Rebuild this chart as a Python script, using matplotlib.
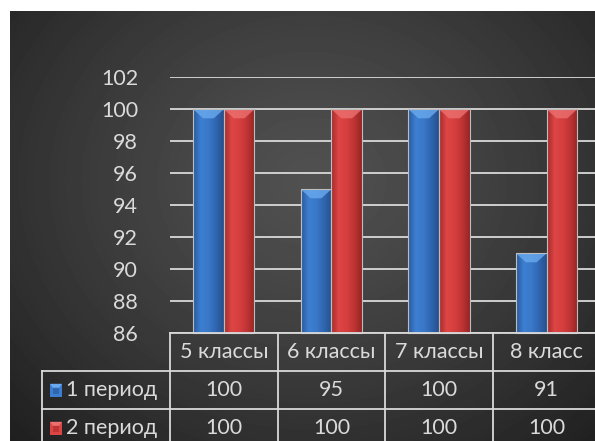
import numpy as np
import matplotlib
matplotlib.use("Agg")
import matplotlib.pyplot as plt
from matplotlib.patches import Rectangle, Polygon
from matplotlib.colors import LinearSegmentedColormap

# ---- data -------------------------------------------------------------
categories = ["5 классы", "6 классы", "7 классы", "8 класс"]
series_names = ["1 период", "2 период"]
period1 = [100, 95, 100, 91]
period2 = [100, 100, 100, 100]
y_ticks = [86, 88, 90, 92, 94, 96, 98, 100, 102]

# ---- style ------------------------------------------------------------
W, H = 595, 441
FONT = ["Lato", "Noto Sans", "DejaVu Sans"]
TEXT = "#dadada"
LINE = "#d9d9d9"
FS = 15.5
plt.rcParams["font.family"] = FONT

blue_cmap = LinearSegmentedColormap.from_list(
    "blue_bar", ["#2b5a9a", "#3d7fd2", "#3a78c8", "#2f66b0", "#27508c"])
red_cmap = LinearSegmentedColormap.from_list(
    "red_bar", ["#a62c2c", "#de4646", "#d63f3f", "#c03434", "#962525"])
blue_top, red_top = "#6aaaee", "#ec7070"
series_style = [(blue_cmap, blue_top, "#3a78c8"), (red_cmap, red_top, "#d23d3d")]

fig = plt.figure(figsize=(W / 100, H / 100), dpi=100, facecolor="white")

# ---- dark radial background panel ------------------------------------
bw, bh = W - 10, H - 11
bg = fig.add_axes([10 / W, 0, bw / W, bh / H], zorder=0)
bg.set_axis_off()
yy, xx = np.mgrid[0:bh, 0:bw]
r = np.hypot((xx - 300) / 1.0, (yy - 170) / 0.85)
t = np.clip(r / 440, 0, 1)
shade = 0.315 - (0.315 - 0.115) * t ** 1.25
bg.imshow(shade, cmap="gray", vmin=0, vmax=1, extent=(0, 1, 0, 1),
          aspect="auto", origin="upper", interpolation="bilinear")
bg.set_xlim(0, 1)
bg.set_ylim(0, 1)

# ---- bar chart axes ---------------------------------------------------
ax_left, ax_bottom_px, ax_w, ax_h = 170, 333.3, 430.4, 256
ax = fig.add_axes([ax_left / W, (H - ax_bottom_px) / H, ax_w / W, ax_h / H], zorder=2)
ax.patch.set_alpha(0)
n = len(categories)
ax.set_xlim(-0.5, n - 0.5)
ax.set_ylim(y_ticks[0], y_ticks[-1])
for s in ax.spines.values():
    s.set_visible(False)
ax.set_yticks(y_ticks)
ax.set_yticklabels([str(v) for v in y_ticks], color=TEXT, fontsize=FS)
ax.tick_params(axis="y", length=0, pad=23)
ax.set_xticks([])
ax.yaxis.grid(True, color=LINE, lw=1.3)
ax.set_axisbelow(True)

width = 0.285
x = np.arange(n)
dx = n / ax_w                                   # data units per pixel (x)
dy = (y_ticks[-1] - y_ticks[0]) / ax_h          # data units per pixel (y)
bev_x, bev_y = 10, 9

profile = np.linspace(0, 1, 64)[None, :]
for k, (vals, offset) in enumerate(zip([period1, period2], [-width / 2, width / 2])):
    cmap, top_c, base_c = series_style[k]
    bars = ax.bar(x + offset, vals, width, color=base_c, zorder=3, linewidth=0)
    for rect, v in zip(bars, vals):
        x0 = rect.get_x()
        x1 = x0 + rect.get_width()
        img = ax.imshow(profile, cmap=cmap, extent=(x0, x1, y_ticks[0], v),
                        aspect="auto", zorder=3.1, interpolation="bilinear")
        img.set_clip_path(rect)
        ax.add_patch(Polygon([(x0, v), (x1, v), (x1 - bev_x * dx, v - bev_y * dy),
                              (x0 + bev_x * dx, v - bev_y * dy)],
                             closed=True, facecolor=top_c, edgecolor="none",
                             alpha=0.8, zorder=3.2))
        ax.add_patch(Rectangle((x0, y_ticks[0]), x1 - x0, v - y_ticks[0], fill=False,
                               edgecolor="#bdbdbd", lw=0.8, zorder=3.3, clip_on=False))
ax.set_xlim(-0.5, n - 0.5)
ax.set_ylim(y_ticks[0], y_ticks[-1])

# ---- data table under the axes ---------------------------------------
ov = fig.add_axes([0, 0, 1, 1], zorder=4)
ov.set_axis_off()
ov.set_xlim(0, W)
ov.set_ylim(H, 0)

bounds = [ax.transData.transform((i - 0.5, y_ticks[0]))[0] for i in range(n + 1)]
y0 = H - ax.transData.transform((0, y_ticks[0]))[1]
row_h = 38
label_left = 42
lw = 1.3
rows_y = [y0 + row_h * i for i in range(4)]

ov.plot([bounds[0], bounds[-1]], [y0, y0], color=LINE, lw=lw, clip_on=False)
for ry in rows_y[1:3]:
    ov.plot([label_left, bounds[-1]], [ry, ry], color=LINE, lw=lw, clip_on=False)
for bx in bounds:
    ov.plot([bx, bx], [y0, H + 5], color=LINE, lw=lw, clip_on=False)
ov.plot([label_left, label_left], [rows_y[1], H + 5], color=LINE, lw=lw, clip_on=False)

for i, cat in enumerate(categories):
    cx = (bounds[i] + bounds[i + 1]) / 2
    ov.text(cx, y0 + row_h / 2, cat, ha="center", va="center", color=TEXT, fontsize=FS)
    for r_i, vals in enumerate([period1, period2]):
        ov.text(cx, rows_y[r_i + 1] + row_h / 2, f"{vals[i]}", ha="center", va="center",
                color=TEXT, fontsize=FS)

# legend keys with a small bevelled swatch
for r_i, name in enumerate(series_names):
    cmap, top_c, base_c = series_style[r_i]
    cy = rows_y[r_i + 1] + row_h / 2
    sx, sw, sh = 50, 12, 13
    top = cy - sh / 2
    ov.add_patch(Rectangle((sx, top), sw, sh, facecolor=cmap(0.3),
                           edgecolor="none", zorder=5))
    ov.add_patch(Rectangle((sx + 3, top + 3), sw - 6, sh - 6, facecolor=cmap(0.75),
                           edgecolor="none", zorder=5.05))
    ov.add_patch(Polygon([(sx, top), (sx + sw, top), (sx + sw - 3, top + 4), (sx + 3, top + 4)],
                         closed=True, facecolor=top_c, edgecolor="none", zorder=5.1))
    ov.text(sx + sw + 4, cy, name, ha="left", va="center", color=TEXT, fontsize=FS)

fig.savefig("out.png", dpi=100, facecolor="white")
